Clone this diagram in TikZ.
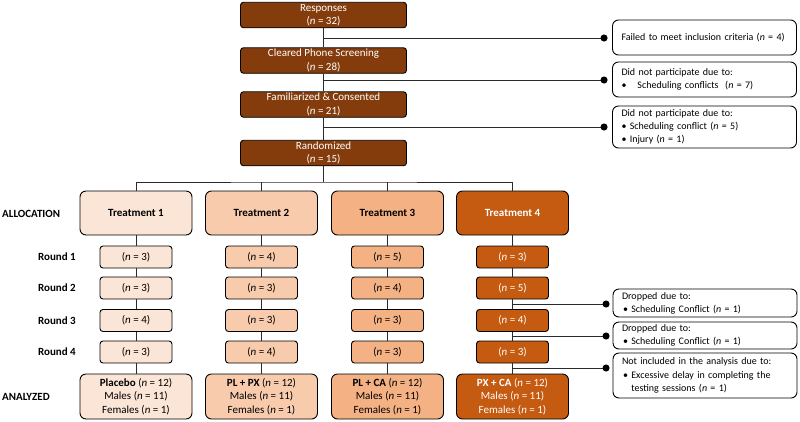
\documentclass[tikz,border=0pt]{standalone}
\usepackage{fontspec}
\setmainfont{Carlito}
\usetikzlibrary{arrows.meta}
\definecolor{topbrown}{HTML}{843C0C}
\definecolor{tone}{HTML}{FBE5D6}
\definecolor{ttwo}{HTML}{F8CBAD}
\definecolor{tthree}{HTML}{F4B183}
\definecolor{tfour}{HTML}{C55A11}
\definecolor{linegray}{HTML}{2B2B2B}
\tikzset{
  box/.style={draw=black, line width=0.9pt, align=center, inner sep=0pt, font=\fontsize{11}{13.2}\selectfont},
  topbox/.style={box, rounded corners=3pt, fill=topbrown, text=white, minimum width=166pt, minimum height=25.5pt},
  treatbox/.style={box, rounded corners=6pt, minimum width=112pt, minimum height=44pt, font=\fontsize{11}{13.2}\selectfont\bfseries},
  roundbox/.style={box, rounded corners=3pt, minimum width=72pt, minimum height=22pt},
  anbox/.style={box, rounded corners=6pt, minimum width=112pt, minimum height=45pt, font=\fontsize{11}{13.6}\selectfont},
  sidebox/.style={draw=black, line width=0.9pt, rounded corners=6pt, fill=white, minimum width=184pt, text width=166pt, align=left, inner xsep=9pt, inner ysep=0pt, font=\fontsize{10}{13.2}\selectfont},
  rowlabel/.style={anchor=east, font=\fontsize{11}{13}\selectfont\bfseries, inner sep=0pt},
  seclabel/.style={anchor=west, font=\fontsize{11}{13}\selectfont\bfseries, inner sep=0pt},
  conn/.style={draw=linegray, line width=0.9pt},
  dotconn/.style={conn, -{Circle[length=7pt, fill=black, color=black]}},
}
\newcommand{\nn}{\textit{n}}
\begin{document}
\begin{tikzpicture}[x=1pt,y=-1pt]
\useasboundingbox (0,0) rectangle (800,421);

% top chain
\node[topbox] (resp) at (323.5,15) {Responses\\(\nn{} = 32)};
\node[topbox] (clear) at (323.5,60.5) {Cleared Phone Screening\\(\nn{} = 28)};
\node[topbox] (fam) at (323.5,104.5) {Familiarized \& Consented\\(\nn{} = 21)};
\node[topbox] (rand) at (323.5,153) {Randomized\\(\nn{} = 15)};

% side boxes top
\node[sidebox, minimum height=35pt] (s1) at (704.5,37.5) {Failed to meet inclusion criteria (\nn{} = 4)};
\node[sidebox, minimum height=35pt] (s2) at (704.5,79.5) {Did not participate due to:\\\textbullet\hspace{1.1em}Scheduling conflicts\ \ (\nn{} = 7)};
\node[sidebox, minimum height=42pt] (s3) at (704.5,127) {Did not participate due to:\\\textbullet\ Scheduling conflict (\nn{} = 5)\\\textbullet\ Injury (\nn{} = 1)};

\draw[conn] (resp) -- (clear);
\draw[conn] (clear) -- (fam);
\draw[conn] (fam) -- (rand);
\coordinate (b1) at (323.5,38);
\coordinate (b2) at (323.5,80);
\coordinate (b3) at (323.5,127);
\draw[dotconn, shorten >=4.5pt] (b1) -- (b1 -| s1.west);
\draw[dotconn, shorten >=4.5pt] (b2) -- (b2 -| s2.west);
\draw[dotconn, shorten >=4.5pt] (b3) -- (b3 -| s3.west);

% treatments
\node[treatbox, fill=tone] (t1) at (136,213) {Treatment 1};
\node[treatbox, fill=ttwo] (t2) at (261.5,213) {Treatment 2};
\node[treatbox, fill=tthree] (t3) at (387.5,213) {Treatment 3};
\node[treatbox, fill=tfour, text=white] (t4) at (512.5,213) {Treatment 4};

\coordinate (hub) at (323.5,182);
\draw[conn] (rand) -- (hub);
\draw[conn] (t1.north) |- (hub) -| (t4.north);
\draw[conn] (t2.north) -- (t2.north |- hub);
\draw[conn] (t3.north) -- (t3.north |- hub);

% labels
\node[seclabel] (alloc) at (2,213.5) {ALLOCATION};
\node[seclabel] (anal) at (2,397) {ANALYZED};
\node[rowlabel] (r1) at (76,257) {Round 1};
\node[rowlabel] (r2) at (76,288) {Round 2};
\node[rowlabel] (r3) at (76,320.5) {Round 3};
\node[rowlabel] (r4) at (76,352) {Round 4};

% round boxes
\foreach \col/\x/\fc/\tc/\a/\b/\c/\d in {1/136/tone/black/3/3/4/3, 2/261.5/ttwo/black/4/3/3/4, 3/387.5/tthree/black/5/4/3/3, 4/512.5/tfour/white/3/5/4/3}{
  \node[roundbox, fill=\fc, text=\tc] (c\col r1) at (\x,257) {(\nn{} = \a)};
  \node[roundbox, fill=\fc, text=\tc] (c\col r2) at (\x,288) {(\nn{} = \b)};
  \node[roundbox, fill=\fc, text=\tc] (c\col r3) at (\x,320.5) {(\nn{} = \c)};
  \node[roundbox, fill=\fc, text=\tc] (c\col r4) at (\x,352) {(\nn{} = \d)};
}
\node[anbox, fill=tone] (a1) at (136,396.5) {\textbf{Placebo} (\nn{} = 12)\\Males (\nn{} = 11)\\Females (\nn{} = 1)};
\node[anbox, fill=ttwo] (a2) at (261.5,396.5) {\textbf{PL + PX} (\nn{} = 12)\\Males (\nn{} = 11)\\Females (\nn{} = 1)};
\node[anbox, fill=tthree] (a3) at (387.5,396.5) {\textbf{PL + CA} (\nn{} = 12)\\Males (\nn{} = 11)\\Females (\nn{} = 1)};
\node[anbox, fill=tfour, text=white] (a4) at (512.5,396.5) {\textbf{PX + CA} (\nn{} = 12)\\Males (\nn{} = 11)\\Females (\nn{} = 1)};

\foreach \col in {1,2,3,4}{
  \draw[conn] (t\col) -- (c\col r1);
  \draw[conn] (c\col r1) -- (c\col r2);
  \draw[conn] (c\col r2) -- (c\col r3);
  \draw[conn] (c\col r3) -- (c\col r4);
  \draw[conn] (c\col r4) -- (a\col);
}

% side boxes bottom
\node[sidebox, minimum height=28pt] (s4) at (705,303) {Dropped due to:\\\hspace{0.1em}\textbullet\ Scheduling Conflict (\nn{} = 1)};
\node[sidebox, minimum height=27pt] (s5) at (705,335.5) {Dropped due to:\\\hspace{0.1em}\textbullet\ Scheduling Conflict (\nn{} = 1)};
\node[sidebox, minimum height=45pt] (s6) at (705,375.5) {Not included in the analysis due to:\\\hspace{0.1em}\textbullet\ Excessive delay in completing the\\\hspace{0.1em}\phantom{\textbullet\ }testing sessions (\nn{} = 1)};

\coordinate (b4) at (512.5,304);
\coordinate (b5) at (512.5,336);
\coordinate (b6) at (512.5,368);
\draw[dotconn, shorten >=3pt] (b4) -- (b4 -| s4.west);
\draw[dotconn, shorten >=3pt] (b5) -- (b5 -| s5.west);
\draw[dotconn, shorten >=3pt] (b6) -- (b6 -| s6.west);
\end{tikzpicture}
\end{document}
